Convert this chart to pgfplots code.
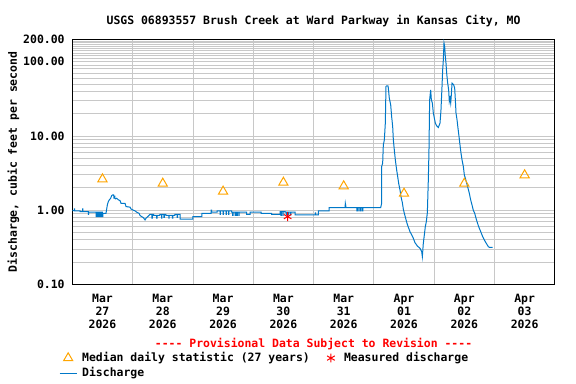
\documentclass[border=0pt]{standalone}
\usepackage{fontspec}
\setmainfont{DejaVu Sans Mono}
\usepackage{pgfplots}
\pgfplotsset{compat=1.18}
\definecolor{usgsblue}{RGB}{0,120,200}
\definecolor{usgsorange}{RGB}{255,165,0}
\definecolor{gridgray}{RGB}{200,200,200}
\begin{document}
\fontsize{11.5}{13}\selectfont\bfseries
\begin{tikzpicture}
\useasboundingbox (0,0) rectangle (576bp,-384bp);
\begin{axis}[
  name=ax,
  at={(72.3bp,-284.5bp)}, anchor=south west,
  scale only axis, width=482.5bp, height=245.2bp,
  ymode=log, xmin=0, xmax=8, ymin=0.1, ymax=200,
  axis line style={line width=1.1bp, black},
  xtick={0.5,1.5,2.5,3.5,4.5,5.5,6.5,7.5},
  xticklabels={{Mar\\27\\2026},{Mar\\28\\2026},{Mar\\29\\2026},{Mar\\30\\2026},{Mar\\31\\2026},{Apr\\01\\2026},{Apr\\02\\2026},{Apr\\03\\2026}},
  minor xtick={1,2,3,4,5,6,7},
  xminorgrids=true,
  ytick={0.1,1,10,100,200},
  yticklabels={0.10,1.00,10.00,100.00,200.00},
  minor ytick={0.2,0.3,0.4,0.5,0.6,0.7,0.8,0.9,2,3,4,5,6,7,8,9,20,30,40,50,60,70,80,90,110,120,130,140,150,160,170,180,190},
  ymajorgrids=true, yminorgrids=true,
  major grid style={gridgray, line width=0.8bp},
  minor grid style={gridgray, line width=0.8bp},
  major tick length=0pt, minor tick length=0pt,
  xticklabel style={align=center, inner sep=0pt, anchor=north, yshift=-9.3bp, font=\fontsize{11.5}{13}\selectfont\bfseries},
  yticklabel style={anchor=east, inner sep=0pt, xshift=-7.5bp, font=\fontsize{11.5}{13}\selectfont\bfseries},
  /pgf/number format/assume math mode=true,
  title={USGS 06893557 Brush Creek at Ward Parkway in Kansas City, MO},
  title style={at={(0.5,1)}, anchor=base, inner sep=0pt, yshift=9.1bp, font=\fontsize{11.5}{13}\selectfont\bfseries},
  ylabel={Discharge, cubic feet per second},
  ylabel style={at={(rel axis cs:0,0.5)}, anchor=center, inner sep=0pt, yshift=59bp, font=\fontsize{11.5}{13}\selectfont\bfseries},
  legend columns=2,
  legend cell align=left,
  legend style={draw=none, fill=none, at={(rel axis cs:0,0)}, anchor=north west, xshift=-16.3bp, yshift=-66bp,
    font=\fontsize{11.5}{13}\selectfont\bfseries,
    nodes={inner sep=0pt, text height=8.4bp, text depth=2.4bp},
    row sep=5bp,
    /tikz/column 1/.append style={column sep=5bp},
    /tikz/column 2/.append style={column sep=17.3bp},
    /tikz/column 3/.append style={column sep=9.3bp}},
]
\addplot[only marks, mark=triangle, mark size=5.3bp, color=usgsorange, mark options={line width=1bp}]
 coordinates {(0.5,2.62)(1.5,2.29)(2.5,1.79)(3.5,2.36)(4.5,2.11)(5.5,1.68)(6.5,2.29)(7.5,2.97)};
\addlegendentry{Median daily statistic (27 years)}
\addplot[only marks, mark=asterisk, mark size=4.4bp, color=red, mark options={line width=1bp}]
 coordinates {(3.57,0.82)};
\addlegendentry{Measured discharge}
\addplot[no markers, color=usgsblue, line width=1bp]
 coordinates {
(0.000,0.99)(0.033,0.99)(0.033,1.04)(0.040,1.04)(0.040,0.98)(0.128,0.98)(0.128,0.957)(0.170,0.957)(0.170,1.04)(0.176,1.04)(0.176,0.957)(0.266,0.957)(0.266,0.88)(0.272,0.88)(0.272,0.94)
(0.393,0.94)(0.393,0.82)(0.398,0.82)(0.398,0.94)(0.415,0.94)(0.415,0.82)(0.420,0.82)(0.420,0.94)(0.435,0.94)(0.435,0.82)(0.440,0.82)(0.440,0.94)(0.455,0.94)(0.455,0.82)(0.460,0.82)(0.460,0.94)(0.475,0.94)(0.475,0.82)(0.480,0.82)(0.480,0.94)(0.500,0.94)(0.500,0.82)(0.505,0.82)(0.505,0.91)(0.559,0.91)
(0.581,1.18)(0.598,1.31)(0.614,1.38)(0.636,1.45)(0.653,1.57)(0.670,1.61)(0.686,1.61)(0.690,1.45)(0.700,1.45)(0.700,1.55)(0.706,1.55)(0.706,1.45)(0.719,1.42)(0.736,1.45)(0.764,1.38)(0.791,1.35)(0.808,1.24)(0.874,1.24)(0.891,1.12)(0.957,1.10)(0.974,1.04)(1.012,1.00)(1.040,0.98)(1.068,0.94)(1.106,0.91)(1.123,0.85)(1.150,0.82)(1.178,0.795)(1.206,0.74)(1.222,0.78)(1.250,0.82)(1.289,0.88)
(1.320,0.88)(1.320,0.78)(1.326,0.78)(1.326,0.88)(1.350,0.88)(1.350,0.85)(1.400,0.85)(1.400,0.78)(1.406,0.78)(1.406,0.85)(1.450,0.85)(1.450,0.88)(1.480,0.88)(1.480,0.78)(1.486,0.78)(1.486,0.88)(1.520,0.88)(1.520,0.80)(1.526,0.80)(1.526,0.88)(1.550,0.88)(1.550,0.85)(1.600,0.85)(1.600,0.78)(1.606,0.78)(1.606,0.85)(1.660,0.85)(1.660,0.78)(1.666,0.78)(1.666,0.85)(1.700,0.85)(1.700,0.88)(1.740,0.88)(1.740,0.80)(1.746,0.80)(1.746,0.88)(1.786,0.88)(1.786,0.76)
(2.000,0.76)(2.000,0.82)(2.150,0.82)(2.150,0.91)(2.300,0.91)(2.300,1.00)(2.310,1.00)(2.310,0.94)(2.400,0.94)(2.400,0.98)(2.450,0.98)(2.450,0.88)(2.456,0.88)(2.456,0.98)(2.500,0.98)(2.500,0.88)(2.506,0.88)(2.506,0.98)(2.550,0.98)(2.550,0.88)(2.556,0.88)(2.556,0.98)(2.590,0.98)(2.590,0.88)(2.596,0.88)(2.596,0.98)(2.643,0.98)(2.643,0.94)(2.660,0.94)(2.660,0.85)(2.666,0.85)(2.666,0.94)(2.700,0.94)(2.700,0.85)(2.706,0.85)(2.706,0.94)(2.730,0.94)(2.730,0.85)(2.736,0.85)(2.736,0.94)(2.760,0.94)(2.760,0.85)(2.766,0.85)(2.766,0.94)(2.891,0.94)(2.891,0.88)(2.947,0.88)(2.947,0.94)
(3.129,0.94)(3.129,0.91)(3.306,0.91)(3.306,0.88)(3.444,0.88)(3.444,0.957)(3.460,0.957)(3.460,0.85)(3.466,0.85)(3.466,0.957)(3.490,0.957)(3.490,0.85)(3.496,0.85)(3.496,0.957)(3.527,0.957)(3.527,0.94)(3.550,0.94)(3.550,0.865)(3.556,0.865)(3.556,0.94)(3.580,0.94)(3.580,0.865)(3.586,0.865)(3.586,0.94)(3.620,0.94)(3.620,0.865)(3.626,0.865)(3.626,0.94)(3.693,0.94)(3.693,0.865)
(4.030,0.865)(4.030,0.92)(4.036,0.92)(4.036,0.865)(4.080,0.865)(4.080,0.98)(4.257,0.98)(4.257,1.08)(4.522,1.08)(4.527,1.24)(4.540,1.08)(4.720,1.08)(4.720,0.98)(4.726,0.98)(4.726,1.08)(4.750,1.08)(4.750,0.98)(4.756,0.98)(4.756,1.08)(4.780,1.08)(4.780,0.98)(4.786,0.98)(4.786,1.08)(4.810,1.08)(4.810,0.98)(4.816,0.98)(4.816,1.08)
(5.113,1.08)(5.129,1.24)(5.129,3.87)(5.146,4.30)(5.157,7.59)(5.174,8.86)(5.190,14.9)(5.201,46.3)(5.212,47.3)(5.234,47.3)(5.240,44.1)(5.256,32.3)(5.279,26.3)(5.295,18.2)(5.312,13.4)(5.323,8.86)(5.339,6.50)(5.356,4.76)(5.378,3.49)(5.395,2.84)(5.411,2.31)(5.433,1.88)(5.450,1.52)(5.472,1.27)(5.489,1.03)(5.505,0.91)(5.527,0.78)(5.549,0.668)(5.572,0.590)(5.599,0.515)(5.627,0.465)(5.654,0.420)(5.682,0.366)(5.721,0.330)(5.765,0.307)(5.793,0.277)(5.804,0.237)(5.820,0.359)(5.837,0.465)(5.853,0.601)(5.870,0.70)(5.887,0.93)(5.903,2.56)(5.914,6.50)(5.925,30.7)(5.942,41.8)(5.953,30.7)(5.970,27.7)(5.986,20.3)
(6.003,17.4)(6.019,14.9)(6.041,13.7)(6.069,13.0)(6.097,14.9)(6.113,22.5)(6.130,46.3)(6.141,77.8)(6.152,106)(6.163,178)(6.174,160)(6.185,117)(6.196,95.7)(6.207,70.2)(6.224,51.5)(6.240,41.8)(6.251,29.1)(6.263,32.3)(6.274,27.7)(6.285,35.8)(6.296,51.5)(6.307,50.4)(6.323,48.8)(6.340,44.1)(6.351,30.7)(6.362,20.3)(6.379,16.5)(6.395,12.7)(6.412,9.82)(6.428,7.59)(6.445,5.86)(6.462,4.76)(6.484,3.87)(6.500,2.99)(6.517,2.70)(6.539,2.31)(6.561,1.98)(6.583,1.69)(6.605,1.38)(6.627,1.18)(6.649,1.00)(6.672,0.91)(6.694,0.78)(6.716,0.68)(6.738,0.601)(6.760,0.543)(6.782,0.490)(6.804,0.441)(6.826,0.406)(6.848,0.377)(6.871,0.351)(6.898,0.323)(6.915,0.317)(6.970,0.317)
};
\addlegendentry{Discharge}
\end{axis}
\node[anchor=base, inner sep=0pt, text=red, font=\fontsize{11.5}{13}\selectfont\bfseries] at ([yshift=-63bp]ax.south) {-{}-{}-{}- Provisional Data Subject to Revision -{}-{}-{}-};
\end{tikzpicture}
\end{document}
